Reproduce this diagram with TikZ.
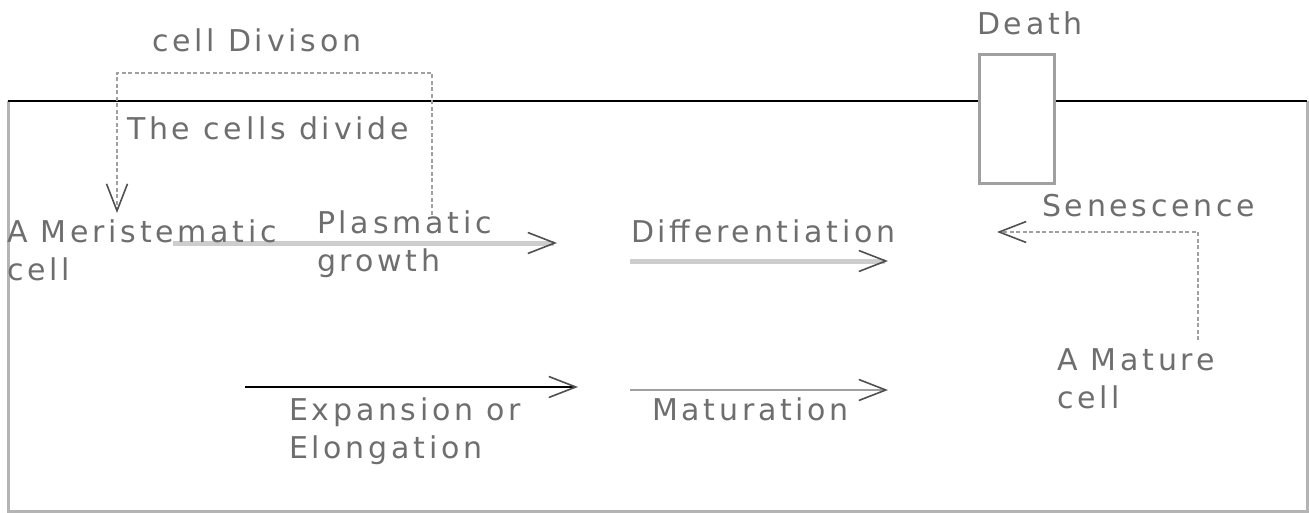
\documentclass[tikz,border=0pt]{standalone}
\usepackage{fontspec}
\usetikzlibrary{arrows.meta}
\newfontfamily\dvfont[LetterSpace=12.5]{DejaVu Sans}
\definecolor{txtgray}{RGB}{110,110,110}
\definecolor{lightarrow}{RGB}{205,205,205}
\definecolor{midarrow}{RGB}{160,160,160}
\definecolor{framegray}{RGB}{180,180,180}
\definecolor{dotgray}{RGB}{160,160,160}
\definecolor{headgray}{RGB}{80,80,80}
\tikzset{
  lbl/.style={anchor=base west, inner sep=0pt, outer sep=0pt, align=left,
    text=txtgray, font=\dvfont\fontsize{30}{38}\selectfont},
  barb/.style={-{Straight Barb[length=27pt,width=21pt,line width=1.6pt,color=headgray]}},
  thickgray/.style={barb, draw=lightarrow, line width=5pt},
  thingray/.style={barb, draw=midarrow, line width=2.8pt},
  blackarrow/.style={barb, draw=black, line width=2.8pt},
  dotarrow/.style={barb, draw=dotgray, line width=2.2pt, dash pattern=on 4pt off 2.5pt},
  framel/.style={draw=framegray, line width=3pt},
  topl/.style={draw=black, line width=2.8pt},
  deathbox/.style={draw=midarrow, line width=3.2pt, fill=white}
}
\begin{document}
\begin{tikzpicture}[x=1pt,y=-1pt]
\useasboundingbox (0,0) rectangle (1309,513);
% frame
\coordinate (fTL) at (8,101);
\coordinate (fBL) at (8,511);
\coordinate (fBR) at (1307,511);
\coordinate (fTR) at (1307,101);
\draw[framel] (fTL) -- (fBL) -- (fBR) -- (fTR);
% death box
\node[deathbox, minimum width=75pt, minimum height=129pt, inner sep=0pt, anchor=north west] (box) at (978,53) {};
\draw[topl] (fTL) -- (fTL -| box.west);
\draw[topl] (fTR -| box.east) -- (fTR);
% cell division loop
\coordinate (cdS) at (432,215);
\coordinate (cdA) at (432,73);
\coordinate (cdB) at (117,73);
\coordinate (cdE) at (117,213);
\draw[dotarrow] (cdS) -- (cdA) -- (cdB) -- (cdE);
% senescence
\coordinate (snS) at (1198,340);
\coordinate (snA) at (1198,232);
\coordinate (snE) at (997,232);
\draw[dotarrow] (snS) -- (snA) -- (snE);
% growth arrows
\coordinate (pgS) at (173,243);
\coordinate (pgE) at (557,243);
\draw[thickgray] (pgS) -- (pgE);
\coordinate (dfS) at (630,261);
\coordinate (dfE) at (888,261);
\draw[thickgray] (dfS) -- (dfE);
\coordinate (exS) at (245,387);
\coordinate (exE) at (578,387);
\draw[blackarrow] (exS) -- (exE);
\coordinate (mtS) at (630,390);
\coordinate (mtE) at (888,390);
\draw[thingray] (mtS) -- (mtE);
% labels (multi-line labels are placed by the baseline of their last line)
\node[lbl] (death) at (977,35) {Death};
\node[lbl] (celldiv) at (152,52) {cell Divison};
\node[lbl] (divide) at (127,140) {The cells divide};
\node[lbl] (merist) at (7,280) {A Meristematic\\cell};
\node[lbl] (plasm) at (317,271) {Plasmatic\\growth};
\node[lbl] (diff) at (631,242) {Differentiation};
\node[lbl] (senes) at (1042,217) {Senescence};
\node[lbl] (mature) at (1057,408) {A Mature\\cell};
\node[lbl] (expan) at (289,458) {Expansion or\\Elongation};
\node[lbl] (matur) at (652,420) {Maturation};
\end{tikzpicture}
\end{document}
